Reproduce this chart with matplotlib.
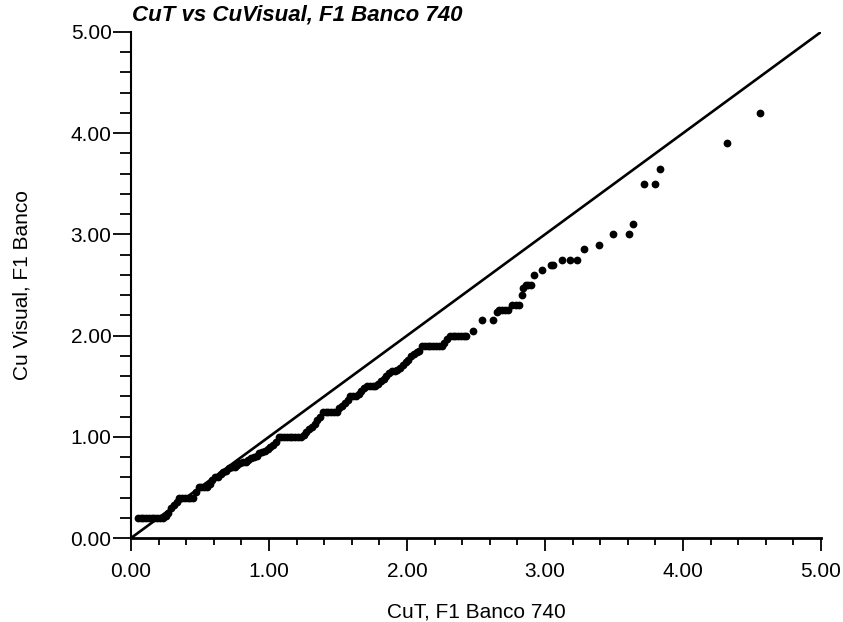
import matplotlib
matplotlib.use('Agg')
import matplotlib.pyplot as plt
from matplotlib.ticker import MultipleLocator, FormatStrFormatter

plt.rcParams['font.family'] = ['Liberation Sans', 'DejaVu Sans']

# Quantile pairs (CuT vs CuVisual)
cut = [0.05, 0.07, 0.09, 0.11, 0.13, 0.15, 0.17, 0.19, 0.21, 0.23,
       0.25, 0.27, 0.29, 0.31, 0.33, 0.35,
       0.37, 0.39, 0.41, 0.43, 0.45,
       0.47, 0.49, 0.51, 0.53, 0.55, 0.57, 0.59, 0.61, 0.63, 0.65,
       0.67, 0.69, 0.71, 0.73, 0.75, 0.77, 0.79, 0.81, 0.83, 0.85,
       0.87, 0.89, 0.91, 0.93, 0.95, 0.97, 0.99, 1.01, 1.03, 1.05, 1.07,
       1.09, 1.11, 1.13, 1.15, 1.17, 1.19, 1.21, 1.23,
       1.25, 1.27, 1.29, 1.31, 1.33, 1.35, 1.37, 1.39,
       1.41, 1.43, 1.45, 1.47, 1.49,
       1.51, 1.53, 1.55, 1.57, 1.59, 1.61, 1.63, 1.65, 1.67, 1.69,
       1.71, 1.73, 1.75, 1.77, 1.79, 1.81, 1.83, 1.85, 1.87, 1.89,
       1.91, 1.93, 1.95, 1.97, 1.99, 2.01, 2.03, 2.05, 2.07, 2.09, 2.11,
       2.13, 2.15, 2.17, 2.19, 2.21, 2.23, 2.25,
       2.27, 2.29, 2.31, 2.33, 2.35, 2.37, 2.39, 2.41, 2.43, 2.48,
       2.54, 2.62, 2.65, 2.67, 2.69, 2.71, 2.73, 2.76, 2.79, 2.81,
       2.83, 2.84, 2.86, 2.88, 2.90, 2.92, 2.98, 3.04, 3.06, 3.12,
       3.18, 3.23, 3.28, 3.39, 3.49, 3.61, 3.64, 3.72, 3.80, 3.83,
       4.32, 4.56]
cuvisual = [0.20, 0.20, 0.20, 0.20, 0.20, 0.20, 0.20, 0.20, 0.20, 0.20,
            0.22, 0.25, 0.30, 0.33, 0.36, 0.40,
            0.40, 0.40, 0.40, 0.40, 0.40,
            0.45, 0.50, 0.50, 0.50, 0.50, 0.53, 0.57, 0.60, 0.60, 0.63,
            0.65, 0.66, 0.69, 0.70, 0.70, 0.72, 0.74, 0.75, 0.75, 0.77,
            0.79, 0.80, 0.81, 0.84, 0.85, 0.86, 0.88, 0.90, 0.92, 0.95, 1.00,
            1.00, 1.00, 1.00, 1.00, 1.00, 1.00, 1.00, 1.00,
            1.02, 1.05, 1.08, 1.10, 1.13, 1.17, 1.20, 1.25,
            1.25, 1.25, 1.25, 1.25, 1.25,
            1.28, 1.30, 1.33, 1.36, 1.40, 1.40, 1.40, 1.42, 1.45, 1.48,
            1.50, 1.50, 1.50, 1.50, 1.52, 1.55, 1.57, 1.60, 1.63, 1.65,
            1.65, 1.66, 1.68, 1.71, 1.74, 1.76, 1.80, 1.82, 1.84, 1.85, 1.90,
            1.90, 1.90, 1.90, 1.90, 1.90, 1.90, 1.90,
            1.93, 1.97, 2.00, 2.00, 2.00, 2.00, 2.00, 2.00, 2.00, 2.05,
            2.15, 2.15, 2.23, 2.25, 2.25, 2.25, 2.25, 2.30, 2.30, 2.30,
            2.40, 2.47, 2.50, 2.50, 2.50, 2.60, 2.65, 2.70, 2.70, 2.75,
            2.75, 2.75, 2.86, 2.90, 3.00, 3.00, 3.10, 3.50, 3.50, 3.65,
            3.90, 4.20]

ref_line = [0.0, 5.0]

fig = plt.figure(figsize=(8.43, 6.22), dpi=100)
ax = fig.add_axes([0.1554, 0.135, 0.8185, 0.8136])

ax.plot(ref_line, ref_line, color='black', linewidth=1.9, zorder=2)
ax.plot(cut, cuvisual, linestyle='none', marker='o', markersize=5.6,
        color='black', markeredgewidth=0, zorder=3)

ax.set_xlim(0, 5)
ax.set_ylim(0, 5)
ax.xaxis.set_major_locator(MultipleLocator(1))
ax.xaxis.set_minor_locator(MultipleLocator(0.2))
ax.yaxis.set_major_locator(MultipleLocator(1))
ax.yaxis.set_minor_locator(MultipleLocator(0.2))
ax.xaxis.set_major_formatter(FormatStrFormatter('%.2f'))
ax.yaxis.set_major_formatter(FormatStrFormatter('%.2f'))

ax.spines['top'].set_visible(False)
ax.spines['right'].set_visible(False)
ax.spines['left'].set_linewidth(1.5)
ax.spines['bottom'].set_linewidth(2.0)

ax.tick_params(axis='x', which='major', direction='out', length=9, width=1.3,
               labelsize=15, pad=8)
ax.tick_params(axis='x', which='minor', direction='out', length=5, width=1.3)
ax.tick_params(axis='y', which='major', direction='out', length=13, width=1.3,
               labelsize=15, pad=1)
ax.tick_params(axis='y', which='minor', direction='out', length=8, width=1.3)

ax.set_xlabel('CuT, F1 Banco 740', fontsize=15, labelpad=16)
ax.set_ylabel('Cu Visual, F1 Banco', fontsize=15, labelpad=28)

fig.text(0.156, 0.976, 'CuT vs CuVisual, F1 Banco 740', fontsize=16,
         fontweight='bold', fontstyle='italic', ha='left', va='center')

fig.savefig('out.png', dpi=100)
